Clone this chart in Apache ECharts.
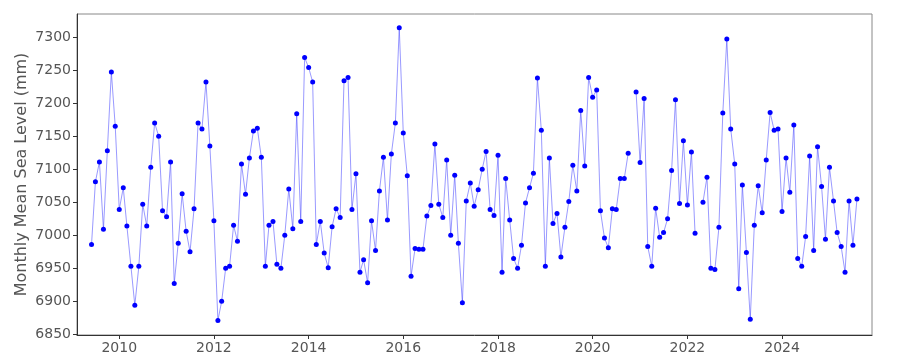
<!DOCTYPE html>
<html>
<head>
<meta charset="utf-8">
<script src="https://cdn.jsdelivr.net/npm/echarts@6/dist/echarts.min.js"></script>
<style>
  html, body { margin: 0; padding: 0; background: #fff; }
  #chart { width: 900px; height: 360px; }
</style>
</head>
<body>
<div id="chart"></div>
<script>
// monthly values, first month is 2009-06, null = missing month
const startYear = 2009
const startMonth = 6
const seaLevel = [
  6986, 7081, 7111, 7009, 7128, 7247, 7165,
  7039, 7072, 7014, 6953, 6894, 6953, 7047, 7014, 7103, 7170, 7150, 7037,
  7028, 7111, 6927, 6988, 7063, 7006, 6975, 7040, 7170, 7161, 7232, 7135,
  7022, 6871, 6900, 6950, 6953, 7015, 6991, 7108, 7062, 7117, 7158, 7162,
  7118, 6953, 7015, 7021, 6956, 6950, 7000, 7070, 7010, 7184, 7021, 7269,
  7254, 7232, 6986, 7021, 6973, 6951, 7013, 7040, 7027, 7234, 7239, 7039,
  7093, 6944, 6963, 6928, 7022, 6977, 7067, 7118, 7023, 7123, 7170, 7314,
  7155, 7090, 6938, 6980, 6979, 6979, 7029, 7045, 7138, 7047, 7027, 7114,
  7000, 7091, 6988, 6898, 7052, 7079, 7044, 7069, 7100, 7127, 7039, 7030,
  7121, 6944, 7086, 7023, 6965, 6950, 6985, 7049, 7072, 7094, 7238, 7159,
  6953, 7117, 7018, 7033, 6967, 7012, 7051, 7106, 7067, 7189, 7105, 7239,
  7209, 7220, 7037, 6996, 6981, 7040, 7039, 7086, 7086, 7124, null, 7217,
  7110, 7207, 6983, 6953, 7041, 6997, 7004, 7025, 7098, 7205, 7048, 7143,
  7046, 7126, 7003, null, 7050, 7088, 6950, 6948, 7012, 7185, 7297, 7161,
  7108, 6919, 7076, 6974, 6873, 7015, 7075, 7034, 7114, 7186, 7159, 7161,
  7036, 7117, 7065, 7167, 6965, 6953, 6998, 7120, 6977, 7134, 7074, 6994,
  7103, 7052, 7004, 6983, 6944, 7052, 6985, 7055
]
const yTicks = [6850, 6900, 6950, 7000, 7050, 7100, 7150, 7200, 7250, 7300]
const xTickYears = [2010, 2012, 2014, 2016, 2018, 2020, 2022, 2024]

// x as timestamps on a value axis (so ticks can sit exactly on Jan 1)
const points = seaLevel.map((v, i) => [Date.UTC(startYear, startMonth - 1 + i, 1), v])
const xTicks = xTickYears.map(y => Date.UTC(y, 0, 1))

const chart = echarts.init(document.getElementById('chart'), null, { renderer: 'canvas' })

const labelColor = '#555'
const font = 'DejaVu Sans'

chart.setOption({
  animation: false,
  backgroundColor: '#fff',
  grid: {
    left: 77, right: 28, top: 14, bottom: 25,
    outerBoundsMode: 'none',
    show: true, borderColor: '#888', borderWidth: 1
  },
  xAxis: {
    type: 'value',
    scale: true,
    min: Date.UTC(2009, 1, 9),
    max: Date.UTC(2025, 10, 25),
    axisLine: { show: true, onZero: false, lineStyle: { color: '#333', width: 1 } },
    axisTick: {
      show: true, length: 4, lineStyle: { color: '#333' },
      customValues: xTicks
    },
    axisLabel: {
      color: labelColor, fontFamily: font, fontSize: 14, margin: 6,
      customValues: xTicks,
      formatter: v => String(new Date(v).getUTCFullYear())
    },
    splitLine: { show: false }
  },
  yAxis: {
    type: 'value',
    scale: true,
    min: 6849,
    max: 7335,
    name: 'Monthly Mean Sea Level (mm)',
    nameLocation: 'middle',
    nameGap: 47,
    nameMoveOverlap: false,
    nameTextStyle: { color: labelColor, fontFamily: font, fontSize: 16 },
    axisLine: { show: true, onZero: false, lineStyle: { color: '#333', width: 1 } },
    axisTick: {
      show: true, length: 4, lineStyle: { color: '#333' },
      customValues: yTicks
    },
    axisLabel: {
      color: labelColor, fontFamily: font, fontSize: 14, margin: 6,
      customValues: yTicks,
      formatter: v => String(v)
    },
    splitLine: { show: false }
  },
  series: [
    {
      type: 'line',
      data: points,
      connectNulls: false,
      symbol: 'circle',
      symbolSize: 5,
      showAllSymbol: true,
      lineStyle: { color: 'rgba(70,70,255,0.55)', width: 1 },
      itemStyle: { color: '#0000ff' }
    }
  ]
})
</script>
</body>
</html>
